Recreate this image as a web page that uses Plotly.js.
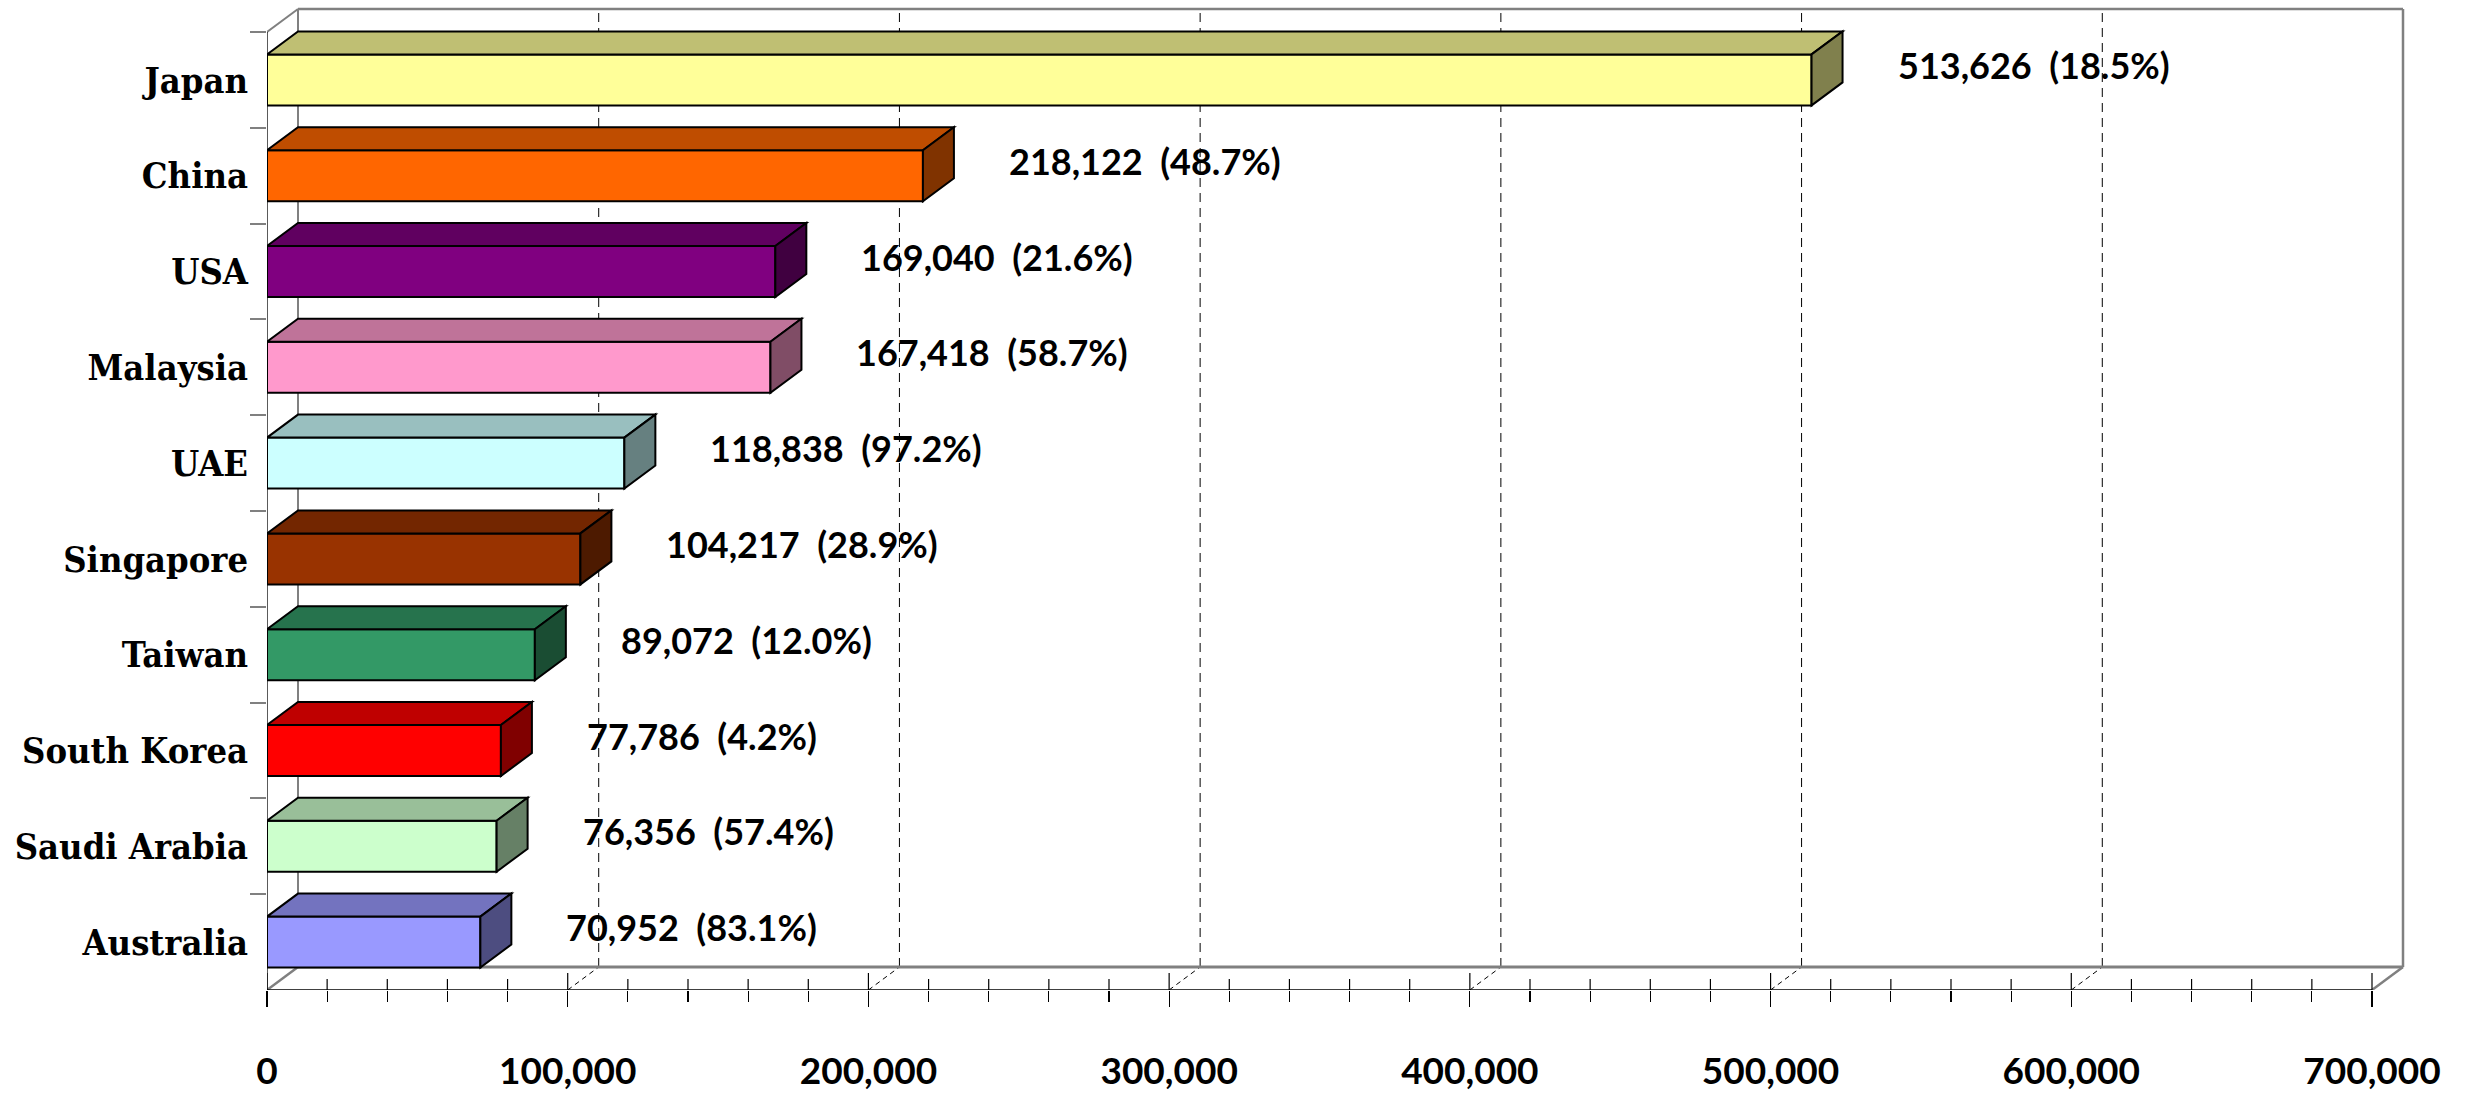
<!DOCTYPE html>
<html>
<head>
<meta charset="utf-8">
<script src="https://cdn.plot.ly/plotly-3.0.1.min.js"></script>
<style>html,body{margin:0;padding:0;background:#fff;}#chart{width:2475px;height:1096px;}</style>
</head>
<body>
<div id="chart"></div>
<script>
// ---- data ----
const categories = ['Japan','China','USA','Malaysia','UAE','Singapore','Taiwan','South Korea','Saudi Arabia','Australia'];
const values = [513626, 218122, 169040, 167418, 118838, 104217, 89072, 77786, 76356, 70952];
const shares = [18.5, 48.7, 21.6, 58.7, 97.2, 28.9, 12.0, 4.2, 57.4, 83.1];
const frontColors = ['#FFFF99','#FF6600','#800080','#FF99CC','#CCFFFF','#993300','#339966','#FF0000','#CCFFCC','#9999FF'];
const xAxisMax = 700000;
const xMajorStep = 100000;
const xMinorStep = 20000;

// ---- geometry (pixels) ----
const W = 2475, H = 1096;
const PLOT_L = 267, PLOT_R = 2418, PLOT_T = 0, PLOT_B = 990;
const AXIS_END_PX = 2372;       // pixel of xAxisMax on the front plane
const SLOT_TOP_PX = 32;         // top of the first category slot on the front plane
const DEPTH_X = 31, DEPTH_Y = 23;
const BAR_H_PX = 51;

const KX = (AXIS_END_PX - PLOT_L) / xAxisMax;               // px per unit
const nCat = categories.length;
const KY = (PLOT_B - SLOT_TOP_PX) / nCat;                    // px per category
const xRange = [0, (PLOT_R - PLOT_L) / KX];
const yRange = [nCat - 0.5, -0.5 - SLOT_TOP_PX / KY];
const DX = DEPTH_X / KX;       // depth in x data units
const DY = DEPTH_Y / KY;       // depth in category units (upwards = smaller index)
const barW = BAR_H_PX / KY;

function shade(hex, f) {
  const n = parseInt(hex.slice(1), 16);
  const r = Math.round(((n >> 16) & 255) * f), g = Math.round(((n >> 8) & 255) * f), b = Math.round((n & 255) * f);
  return 'rgb(' + r + ',' + g + ',' + b + ')';
}

const GRAY = '#808080';
const shapes = [];
const yFloorFront = nCat - 0.5, yTopFront = -0.5;
const yFloorBack = yFloorFront - DY, yTopBack = yTopFront - DY;

function line(x0, y0, x1, y1, color, width, dash, layer) {
  shapes.push({type:'line', xref:'x', yref:'y', x0:x0, y0:y0, x1:x1, y1:y1, layer: layer || 'below',
               line:{color:color, width:width, dash: dash || 'solid'}});
}

// gridlines on back wall + floor
for (let v = xMajorStep; v < xAxisMax; v += xMajorStep) {
  line(v + DX, yFloorBack, v + DX, yTopBack, '#000', 1, '9px,6px');
  line(v, yFloorFront, v + DX, yFloorBack, '#000', 1, '5px,4px');
}
// back wall frame
line(DX, yTopBack, xAxisMax + DX, yTopBack, GRAY, 2.5);
line(xAxisMax + DX, yTopBack, xAxisMax + DX, yFloorBack, GRAY, 2.5);
line(DX, yFloorBack, xAxisMax + DX, yFloorBack, GRAY, 3);
line(DX, yTopBack, DX, yFloorBack, GRAY, 2);
// diagonals
line(0, yTopFront, DX, yTopBack, GRAY, 2);
line(0, yFloorFront, DX, yFloorBack, GRAY, 2.5);
line(xAxisMax, yFloorFront, xAxisMax + DX, yFloorBack, GRAY, 2.5);
// front axes
line(0, yTopFront, 0, yFloorFront, '#000', 1.3);
line(0, yFloorFront, xAxisMax, yFloorFront, '#000', 1.5);
// upper parts of crossing ticks
for (let v = 0; v <= xAxisMax; v += xMinorStep) {
  const major = (v % xMajorStep) === 0;
  line(v, yFloorFront, v, yFloorFront - (major ? 17 : 11) / KY, '#000', 1.2);
}

// 3D faces of bars
const hb = barW / 2;
values.forEach(function(v, i) {
  const yt = i - hb, yb = i + hb;
  const top = 'M0,' + yt + ' L' + v + ',' + yt + ' L' + (v + DX) + ',' + (yt - DY) + ' L' + DX + ',' + (yt - DY) + ' Z';
  const side = 'M' + v + ',' + yt + ' L' + (v + DX) + ',' + (yt - DY) + ' L' + (v + DX) + ',' + (yb - DY) + ' L' + v + ',' + yb + ' Z';
  shapes.push({type:'path', xref:'x', yref:'y', path: top, layer:'above',
               fillcolor: shade(frontColors[i], 0.75), line:{color:'#000', width:2}});
  shapes.push({type:'path', xref:'x', yref:'y', path: side, layer:'above',
               fillcolor: shade(frontColors[i], 0.5), line:{color:'#000', width:2}});
});

const LABEL_FONT = 'Lato, "Liberation Sans", Arial, sans-serif';
const annotations = values.map(function(v, i) {
  return {x: v, y: i, xref:'x', yref:'y', xanchor:'left', yanchor:'middle', xshift: 84, yshift: 15,
          showarrow:false, text: v.toLocaleString('en-US') + '\u00a0 (' + shares[i].toFixed(1) + '%)',
          font:{family: LABEL_FONT, size: 36, color:'#000', weight: 700}};
});

const bar = {
  type:'bar', orientation:'h', y: categories, x: values, width: barW,
  marker:{color: frontColors, line:{color:'#000', width:2}},
  hoverinfo:'skip', showlegend:false
};

const layout = {
  width: W, height: H,
  margin:{l: PLOT_L, r: W - PLOT_R, t: PLOT_T, b: H - PLOT_B, pad:0},
  paper_bgcolor:'#fff', plot_bgcolor:'rgba(0,0,0,0)',
  showlegend:false,
  xaxis:{range: xRange, tickmode:'linear', tick0:0, dtick: xMajorStep, tickformat:',d',
         showgrid:false, zeroline:false, showline:false,
         ticks:'outside', ticklen:16, tickwidth:1.2, tickcolor:'#000',
         minor:{dtick: xMinorStep, tick0:0, ticks:'outside', ticklen:11, tickwidth:1.2, tickcolor:'#000', showgrid:false},
         ticklabelstandoff: 33,
         tickfont:{family: LABEL_FONT, size: 37, color:'#000', weight: 700}},
  yaxis:{type:'category', categoryorder:'array', categoryarray: categories, range: yRange,
         showgrid:false, zeroline:false, showline:false,
         tickson:'boundaries', ticks:'outside', ticklen:16, tickwidth:2, tickcolor: GRAY,
         ticklabelstandoff: 18,
         tickfont:{family:'"DejaVu Serif Condensed", "DejaVu Serif", serif', size: 36, color:'#000', weight: 700}},
  shapes: shapes,
  annotations: annotations
};

Plotly.newPlot('chart', [bar], layout, {displayModeBar:false, staticPlot:true});
</script>
</body>
</html>
